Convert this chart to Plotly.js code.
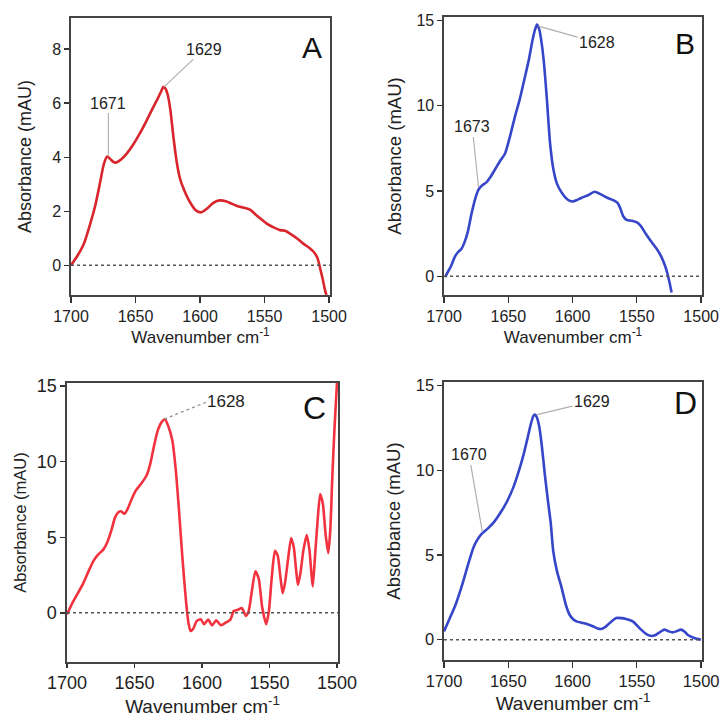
<!DOCTYPE html>
<html><head><meta charset="utf-8">
<script src="https://cdn.plot.ly/plotly-3.0.1.min.js"></script>
<style>html,body{margin:0;padding:0;background:#fff}#chart{width:723px;height:717px}</style>
</head><body><div id="chart"></div>
<script>
// ---- data ----
const wnA = [1700,1695,1690,1685,1681,1677.5,1674.5,1672,1670,1667,1665,1661,1657,1652,1647,1642,1637,1633,1630,1628.5,1627,1625,1623,1620.5,1618,1615.5,1612.5,1608,1603,1599,1595,1590,1585,1580,1575,1570,1565,1561,1557,1552,1548,1543,1538,1534,1530,1525,1520,1515,1512,1509,1507,1505,1503,1502];
const absA = [0,0.35,0.8,1.55,2.25,3.05,3.75,4.02,3.95,3.82,3.8,3.92,4.12,4.45,4.85,5.3,5.78,6.15,6.45,6.6,6.55,6.3,5.75,4.7,3.8,3.2,2.8,2.35,2.02,1.96,2.08,2.3,2.4,2.37,2.27,2.17,2.12,2.05,1.88,1.68,1.53,1.4,1.3,1.28,1.16,1.0,0.8,0.63,0.5,0.27,-0.1,-0.5,-0.95,-1.1];

const wnB = [1699,1697,1694.5,1691.5,1689,1686.5,1684,1681.5,1678.5,1675.5,1673,1670,1667,1664,1660,1656,1652.5,1649,1645,1641,1637,1634,1631,1629,1627.7,1626,1624.5,1622.5,1620,1617.5,1615,1612,1608,1604,1600,1597,1593,1588,1583,1578,1573,1568,1565,1563,1560.5,1558,1554,1550,1547,1544,1540,1535,1531,1528,1526,1524.5,1523];
const absB = [-0.05,0.25,0.6,1.15,1.42,1.6,2.0,2.6,3.7,4.6,5.1,5.35,5.5,5.8,6.3,6.8,7.2,8.1,9.3,10.4,11.7,12.7,13.9,14.5,14.75,14.5,13.9,12.7,10.4,7.8,6.3,5.4,4.85,4.5,4.38,4.45,4.6,4.75,4.95,4.8,4.6,4.45,4.3,4.0,3.5,3.3,3.25,3.15,2.95,2.6,2.15,1.65,1.15,0.6,0.1,-0.4,-0.95];

const wnC = [1700,1696,1692.5,1688,1684,1680.5,1677,1673,1670,1667,1664.5,1662,1660,1657.5,1655,1652,1649,1645,1641,1638.5,1636,1633,1630,1627.5,1625,1622,1619.5,1617,1614.5,1612,1610,1608.5,1606.5,1604,1601,1598.5,1595.5,1592.5,1589.5,1586,1582,1579,1576.5,1573,1570.5,1567.5,1565.5,1563,1560.5,1558,1555.5,1552.5,1550.5,1548.5,1546,1544,1542,1540.3,1538.5,1536.5,1534,1532,1530.5,1529,1527,1525,1522.5,1520.5,1519,1518,1516.5,1514.5,1512.5,1510.5,1508.5,1506.5,1505,1503.5,1502,1500.5,1500];
const absC = [-0.1,0.66,1.22,1.95,2.76,3.42,3.85,4.2,4.7,5.5,6.3,6.65,6.72,6.55,6.9,7.55,8.1,8.55,9.1,9.8,10.85,12.0,12.6,12.8,12.35,11.4,9.5,6.7,3.6,0.9,-0.7,-1.2,-1.05,-0.55,-0.42,-0.75,-0.45,-0.82,-0.5,-0.82,-0.62,-0.45,0.12,0.22,0.32,-0.2,0.1,1.5,2.75,2.25,0.4,-0.75,0.1,2.2,4.1,3.8,2.4,1.3,2.0,3.4,4.95,4.3,3.0,1.85,2.7,4.1,5.15,4.2,2.6,1.75,3.5,6.0,7.85,7.2,5.2,3.95,5.5,9.0,12.0,14.5,15.3];

const wnD = [1700,1696,1691,1686,1681,1677,1674,1670.5,1666,1661,1656,1651,1646,1642,1638,1635,1632.5,1630.5,1629.3,1628,1626,1624,1621.5,1619,1617,1615,1612,1609,1607.5,1605,1602.3,1599.5,1597,1593,1589.4,1584.2,1580.5,1577.8,1575,1572.6,1569,1566,1562,1558.4,1553.2,1550,1546.7,1543.5,1540.3,1536.4,1532.5,1528.7,1525.5,1522.2,1519,1515.7,1513,1510.6,1505.4,1500.2];
const absD = [0.49,1.18,2.06,3.2,4.5,5.45,5.9,6.25,6.55,6.95,7.5,8.15,9.0,9.9,10.95,11.9,12.7,13.2,13.28,13.15,12.6,11.5,9.7,8.1,6.9,5.2,4.0,3.2,2.75,2.0,1.47,1.2,1.08,1.0,0.94,0.79,0.66,0.63,0.72,0.88,1.12,1.28,1.27,1.22,1.08,0.85,0.59,0.38,0.24,0.24,0.42,0.59,0.5,0.43,0.5,0.59,0.48,0.29,0.1,0.0];

const peaksA = [1671, 1629];
const peaksB = [1673, 1628];
const peaksC = [1628];
const peaksD = [1670, 1629];

const xTickVals = [1700, 1650, 1600, 1550, 1500];
const panelLetters = ['A', 'B', 'C', 'D'];

// ---- helpers ----
function interp(xs, ys, x) {
  for (let i = 0; i < xs.length - 1; i++) {
    const a = xs[i], b = xs[i + 1];
    if ((x <= a && x >= b) || (x >= a && x <= b)) {
      const t = (x - a) / (b - a);
      return ys[i] + t * (ys[i + 1] - ys[i]);
    }
  }
  return ys[0];
}

const FONT = 'Arial, "Liberation Sans", Helvetica, sans-serif';
const panels = [
  {wn: wnA, ab: absA, peaks: peaksA, color: '#d8262c', xd: [0.0982, 0.4564], yd: [0.5886, 0.9749], yr: [-1.1, 9.15], dtick: 2,
   tick: 16, ttl: 18, xtl: 17, ystand: 16, xticklen: 6, letter: [0.93, 0.895], lsize: 30,
   lab: [[1671, 6.0], [1597, 8.0]], ann: 16, dotted: false},
  {wn: wnB, ab: absB, peaks: peaksB, color: '#3646c8', xd: [0.6141, 0.9710], yd: [0.5886, 0.9763], yr: [-1.1, 15.2], dtick: 5,
   tick: 16, ttl: 18.5, xtl: 17, ystand: 10, xticklen: 6, letter: [0.934, 0.903], lsize: 30,
   lab: [[1678, 8.75], [1581, 13.7]], ann: 16, dotted: false},
  {wn: wnC, ab: absC, peaks: peaksC, color: '#f2333f', xd: [0.0927, 0.4675], yd: [0.0767, 0.4658], yr: [-3.25, 15.2], dtick: 5,
   tick: 18, ttl: 16.5, xtl: 19, ystand: 6, xticklen: 4, letter: [0.915, 0.91], lsize: 32,
   lab: [[1582, 14.0]], ann: 17, dotted: true},
  {wn: wnD, ab: absD, peaks: peaksD, color: '#3646c8', xd: [0.6141, 0.9710], yd: [0.0795, 0.4672], yr: [-1.2, 15.2], dtick: 5,
   tick: 16.5, ttl: 18.5, xtl: 19, ystand: 10, xticklen: 6, letter: [0.934, 0.924], lsize: 32,
   lab: [[1680.5, 10.9], [1585, 14.06]], ann: 16, dotted: false}
];

const data = [];
const layout = {
  width: 723, height: 717,
  margin: {l: 0, r: 0, t: 0, b: 0},
  paper_bgcolor: '#fff', plot_bgcolor: '#fff',
  showlegend: false,
  shapes: [], annotations: []
};

panels.forEach((p, i) => {
  const n = i === 0 ? '' : String(i + 1);
  const xa = 'x' + n, ya = 'y' + n;
  data.push({
    type: 'scatter', mode: 'lines', x: p.wn, y: p.ab, xaxis: xa, yaxis: ya,
    line: {color: p.color, width: 2.6, shape: 'spline', smoothing: 0.6},
    hoverinfo: 'x+y'
  });
  layout['xaxis' + n] = {
    domain: p.xd, anchor: ya, range: [1700, 1499.3], tickvals: xTickVals,
    ticks: 'outside', ticklen: p.xticklen, tickwidth: 1.3, tickcolor: '#333',
    showline: true, linecolor: '#444', linewidth: 1.6, mirror: true,
    showgrid: false, zeroline: false,
    tickfont: {family: FONT, size: p.tick, color: '#222'},
    title: {text: 'Wavenumber cm<sup>-1</sup>', font: {family: FONT, size: p.xtl, color: '#222'}, standoff: 6}
  };
  layout['yaxis' + n] = {
    domain: p.yd, anchor: xa, range: p.yr, dtick: p.dtick, tick0: 0,
    ticks: 'outside', ticklen: 5, tickwidth: 1.3, tickcolor: '#333',
    showline: true, linecolor: '#444', linewidth: 1.6, mirror: true,
    showgrid: false, zeroline: false,
    tickfont: {family: FONT, size: p.tick, color: '#222'},
    title: {text: 'Absorbance (mAU)', font: {family: FONT, size: p.ttl, color: '#222'}, standoff: p.ystand}
  };
  layout.shapes.push({
    type: 'line', xref: xa, yref: ya, x0: 1700, x1: 1499.3, y0: 0, y1: 0,
    line: {color: '#555', width: 1.5, dash: 'dot'}
  });
  layout.annotations.push({
    xref: xa + ' domain', yref: ya + ' domain', x: p.letter[0], y: p.letter[1],
    xanchor: 'center', yanchor: 'middle', text: panelLetters[i], showarrow: false,
    font: {family: FONT, size: p.lsize, color: '#111'}
  });
  p.peaks.forEach((pk, k) => {
    const py = interp(p.wn, p.ab, pk);
    if (p.dotted) {
      layout.shapes.push({
        type: 'line', xref: xa, yref: ya, x0: pk, y0: py + 0.05,
        x1: p.lab[k][0] + 13, y1: p.lab[k][1],
        line: {color: '#8a8a8a', width: 1.2, dash: 'dot'}
      });
      layout.annotations.push({
        xref: xa, yref: ya, x: p.lab[k][0], y: p.lab[k][1],
        text: String(pk), showarrow: false,
        font: {family: FONT, size: p.ann, color: '#222'}
      });
    } else {
      layout.annotations.push({
        xref: xa, yref: ya, axref: xa, ayref: ya,
        x: pk, y: py,
        ax: p.lab[k][0], ay: p.lab[k][1],
        text: String(pk), showarrow: true, arrowhead: 0, arrowwidth: 1.2,
        arrowcolor: '#b0b0b0', standoff: 2,
        font: {family: FONT, size: p.ann, color: '#222'}
      });
    }
  });
});

Plotly.newPlot('chart', data, layout, {displayModeBar: false, staticPlot: true});
</script>
</body></html>
